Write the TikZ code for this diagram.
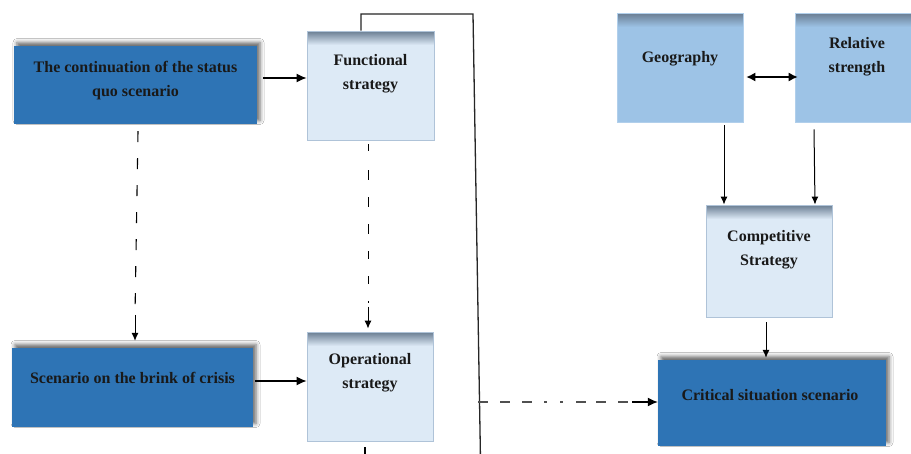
\documentclass[tikz,border=0pt]{standalone}
\usepackage{fontspec}
\setmainfont{Liberation Serif}
\usetikzlibrary{arrows.meta,shadows.blur,calc}

\definecolor{dkblue}{HTML}{2E74B5}
\definecolor{ltblue}{HTML}{DDEAF6}
\definecolor{mdblue}{HTML}{9DC3E6}
\definecolor{ltedge}{HTML}{AFC3D8}
\definecolor{topband}{HTML}{6A7D92}
\definecolor{dashgray}{HTML}{505050}

\tikzset{
  darkbox/.style={fill=dkblue, draw=none, inner sep=0pt,
    blur shadow={shadow xshift=3pt, shadow yshift=3.5pt,
                 shadow blur radius=4pt, shadow opacity=60}},
  % darker band fading downwards along the top edge
  bandfill/.style={path picture={
      \foreach \i in {0,...,13}{
        \pgfmathsetmacro{\mixpct}{100-\i*100/14}
        \fill[color=topband!\mixpct!#1]
          ([yshift=-\i pt]path picture bounding box.north west)
          rectangle ([yshift=-\i pt-1.05pt]path picture bounding box.north east);
      }}},
  lightbox/.style={fill=ltblue, draw=ltedge, line width=0.9pt, inner sep=0pt,
    bandfill=ltblue},
  midbox/.style={fill=mdblue, draw=mdblue!80!white, line width=0.6pt, inner sep=0pt,
    bandfill=mdblue},
  lbl/.style={font=\bfseries\fontsize{16}{24}\selectfont, align=center,
    inner sep=0pt, text=black!90},
  arr/.style={line width=1.2pt, -{Latex[length=10pt,width=9pt]}},
  sarr/.style={line width=1pt, -{Latex[length=8pt,width=7pt]}},
  dblarr/.style={line width=1.4pt, {Latex[length=9pt,width=9pt]}-{Latex[length=9pt,width=9pt]}},
  frame/.style={line width=1.3pt, black!85},
  dashv/.style={line width=1.1pt, dash pattern=on 11pt off 16pt},
  dashh/.style={line width=1.4pt, dashgray,
    dash pattern=on 10pt off 12pt on 10pt off 12pt on 10pt off 12pt on 3pt off 13pt on 3pt off 13pt on 10pt off 10pt},
}

\begin{document}
\begin{tikzpicture}[x=1pt,y=1pt]
  \useasboundingbox[fill=white] (0,0) rectangle (911,-453);

  % scenario boxes
  \node[darkbox, minimum width=243pt, minimum height=78pt] (A) at (135.5,-85) {};
  \node[darkbox, minimum width=241pt, minimum height=79pt] (B) at (132.5,-387.5) {};
  \node[darkbox, minimum width=228pt, minimum height=86pt] (S) at (772,-403) {};

  % strategy boxes
  \node[lightbox, minimum width=127pt, minimum height=109pt] (F) at (370.5,-85.5) {};
  \node[lightbox, minimum width=126pt, minimum height=109pt] (O) at (370,-386.5) {};
  \node[lightbox, minimum width=126pt, minimum height=112pt] (C) at (769,-261) {};

  % factor boxes
  \node[midbox, minimum width=126pt, minimum height=109pt] (G) at (680,-67.5) {};
  \node[midbox, minimum width=126pt, minimum height=109pt] (R) at (858,-67.5) {};

  % texts
  \node[lbl] (At) at (135.5,-80.5) {The continuation of the status\\quo scenario};
  \node[lbl] (Bt) at (132.5,-378) {Scenario on the brink of crisis};
  \node[lbl] (St) at (770,-395) {Critical situation scenario};
  \node[lbl] (Ft) at (370.5,-74) {Functional\\strategy};
  \node[lbl] (Ot) at (370,-373) {Operational\\strategy};
  \node[lbl] (Ct) at (769,-250) {Competitive\\Strategy};
  \node[lbl] (Gt) at (680,-59) {Geography};
  \node[lbl] (Rt) at (857,-56.5) {Relative\\strength};

  % horizontal arrows
  \draw[arr] ([xshift=6pt,yshift=7pt]A.east) -- ([yshift=7.5pt]F.west);
  \draw[arr] ([xshift=2pt,yshift=6.5pt]B.east) -- ([yshift=5.5pt]O.west);
  \draw[dblarr] ([xshift=3pt,yshift=-9.5pt]G.east) -- ([xshift=3pt,yshift=-9.5pt]R.west);

  % factor arrows into competitive strategy
  \draw[sarr] ([xshift=44pt,yshift=-3pt]G.south) -- ([xshift=-45pt]C.north);
  \draw[sarr] ([xshift=-44pt,yshift=-7pt]R.south) -- ([xshift=46pt]C.north);
  \draw[sarr] ([xshift=-3pt,yshift=-5pt]C.south) -- ([xshift=-6pt,yshift=2pt]S.north);

  % dashed links between levels
  \coordinate (ABmid) at ($(B.north)+(2.5,33)$);
  \draw[dashv] ([xshift=2.5pt,yshift=-7pt]A.south) -- (ABmid);
  \draw[sarr] (ABmid) -- ([xshift=2.5pt,yshift=7pt]B.north);

  \coordinate (FOmid) at ($(O.north)+(-2,25)$);
  \draw[line width=1pt, dash pattern=on 7pt off 19pt on 10pt off 17pt on 10pt off 17pt on 10pt off 17pt on 8pt off 17pt on 8pt off 17pt on 2pt off 100pt]
    ([xshift=-2.5pt,yshift=-4pt]F.south) -- (FOmid);
  \draw[sarr] (FOmid) -- ([xshift=-2pt,yshift=3pt]O.north);

  % frame line from the functional strategy
  \coordinate (T1) at (361,-14);
  \coordinate (T2) at (473,-14);
  \coordinate (T3) at (480.5,-460);
  \coordinate (Tj) at (478,-402);
  \draw[frame] ([xshift=-9.5pt]F.north) -- (T1) -- (T2) -- (T3);

  % link from the frame to the critical scenario
  \coordinate (Hs) at (632,-402);
  \draw[dashh] (Tj) -- (Hs);
  \draw[arr] (Hs) -- ([yshift=1pt]S.west);

  % stub below the operational strategy
  \coordinate (Ob) at (365,-460);
  \draw[line width=1.2pt] ([xshift=-5pt,yshift=-6pt]O.south) -- (Ob);
\end{tikzpicture}
\end{document}
